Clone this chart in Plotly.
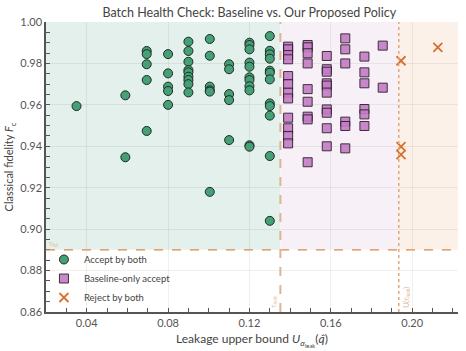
import plotly.graph_objects as go

# ---- data ----
accept_x = [0.035, 0.059, 0.059,
            0.0695, 0.0695, 0.0695, 0.0695, 0.0695,
            0.080, 0.080, 0.080, 0.080, 0.080,
            0.090, 0.090, 0.090, 0.090, 0.090, 0.090, 0.090, 0.090, 0.090,
            0.1005, 0.1005, 0.1005, 0.1005, 0.1005, 0.1005,
            0.110, 0.110, 0.110, 0.110, 0.110,
            0.120, 0.120, 0.120, 0.120, 0.120, 0.120, 0.120, 0.120, 0.120, 0.120, 0.120,
            0.130, 0.130, 0.130, 0.130, 0.130, 0.130, 0.130, 0.130, 0.130, 0.130, 0.130, 0.130]
accept_y = [0.9594, 0.9646, 0.9347,
            0.986, 0.9845, 0.9796, 0.972, 0.9474,
            0.9845, 0.9752, 0.9688, 0.9667, 0.960,
            0.9905, 0.986, 0.9808, 0.9768, 0.9757, 0.9736, 0.972, 0.970, 0.966,
            0.9918, 0.9837, 0.9688, 0.967, 0.9664, 0.918,
            0.9796, 0.9772, 0.9652, 0.9623, 0.943,
            0.990, 0.9889, 0.9868, 0.9804, 0.9784, 0.9733, 0.972, 0.969, 0.967, 0.9405, 0.9398,
            0.9932, 0.9861, 0.9844, 0.9823, 0.9765, 0.9755, 0.9723, 0.9607, 0.9594, 0.9548, 0.9353, 0.904]

base_x = [0.139] * 12 + [0.1486] * 9 + [0.158] * 10 + [0.1671] * 6 + [0.1765] * 6 + [0.1855] * 2
base_y = [0.9881, 0.9868, 0.984, 0.982, 0.9739, 0.970, 0.9659, 0.9631, 0.9538, 0.9487, 0.945, 0.9414,
          0.9889, 0.9878, 0.9849, 0.980, 0.9676, 0.9615, 0.9543, 0.953, 0.9323,
          0.9836, 0.9772, 0.976, 0.9704, 0.9693, 0.9659, 0.9578, 0.9562, 0.9487, 0.940,
          0.9921, 0.9868, 0.980, 0.9519, 0.9498, 0.939,
          0.9833, 0.9757, 0.9704, 0.958, 0.9554, 0.9498,
          0.9886, 0.9683]

reject_x = [0.1945, 0.1945, 0.1945, 0.2126]
reject_y = [0.9813, 0.9398, 0.936, 0.9878]

tau_fid = 0.89
tau_leak = 0.1352
u_tau_leak = 0.1934
x_range = [0.02, 0.2225]
y_range = [0.86, 1.00]

GREEN = "#45a077"
PINK = "#c47cc4"
ORANGE = "#d8702c"
FONT = "Lato, 'Open Sans', sans-serif"

fig = go.Figure()

# shaded decision regions (above tau_fid)
fig.add_shape(type="rect", x0=x_range[0], x1=tau_leak, y0=tau_fid, y1=y_range[1],
              fillcolor="#e4f0eb", line_width=0, layer="below")
fig.add_shape(type="rect", x0=tau_leak, x1=u_tau_leak, y0=tau_fid, y1=y_range[1],
              fillcolor="#f7f0f7", line_width=0, layer="below")
fig.add_shape(type="rect", x0=u_tau_leak, x1=x_range[1], y0=tau_fid, y1=y_range[1],
              fillcolor="#fbf1e9", line_width=0, layer="below")

# threshold lines
fig.add_shape(type="line", x0=x_range[0], x1=x_range[1], y0=tau_fid, y1=tau_fid,
              line=dict(color="#d9894a", width=1.3, dash="dash"))
fig.add_shape(type="line", x0=tau_leak, x1=tau_leak, y0=y_range[0], y1=y_range[1],
              line=dict(color="#dbb594", width=2, dash="dash"))
fig.add_shape(type="line", x0=u_tau_leak, x1=u_tau_leak, y0=y_range[0], y1=y_range[1],
              line=dict(color="#e3a87a", width=1.5, dash="dot"))

fig.add_trace(go.Scatter(x=accept_x, y=accept_y, mode="markers", name="Accept by both",
                         marker=dict(symbol="circle", size=9, color=GREEN,
                                     line=dict(color="#1d2a24", width=1))))
fig.add_trace(go.Scatter(x=base_x, y=base_y, mode="markers", name="Baseline-only accept",
                         marker=dict(symbol="square", size=9, color=PINK, opacity=0.9,
                                     line=dict(color="#2a1a2a", width=1))))
fig.add_trace(go.Scatter(x=reject_x, y=reject_y, mode="markers", name="Reject by both",
                         marker=dict(symbol="x-thin", size=9, color=ORANGE,
                                     line=dict(color=ORANGE, width=1.8))))

# small threshold labels
fig.add_annotation(x=x_range[0], y=tau_fid, text="τ<sub>fid</sub>", showarrow=False,
                   xanchor="left", yanchor="bottom", xshift=1,
                   font=dict(size=7, color="#e0c2a6", family=FONT))
fig.add_annotation(x=tau_leak, y=y_range[0], text="τ<sub>leak</sub>", showarrow=False,
                   textangle=-90, xanchor="right", yanchor="bottom", xshift=-1, yshift=2,
                   font=dict(size=7, color="#e0c2a6", family=FONT))
fig.add_annotation(x=u_tau_leak, y=y_range[0], text="U(τ<sub>leak</sub>)", showarrow=False,
                   textangle=-90, xanchor="left", yanchor="bottom", xshift=1, yshift=2,
                   font=dict(size=7, color="#e0b48e", family=FONT))

axis_common = dict(showline=True, linecolor="#555555", linewidth=1.5, ticks="inside",
                   ticklen=4, tickwidth=1.2, tickcolor="#555555", mirror=False,
                   gridcolor="rgba(0,0,0,0.06)", zeroline=False,
                   tickfont=dict(size=11, color="#555555", family=FONT))

fig.update_xaxes(range=x_range, tick0=0, dtick=0.04, tickformat=".2f",
                 minor=dict(dtick=0.01, tick0=0, ticks="inside", ticklen=4, tickcolor="#555555",
                            showgrid=False),
                 title=dict(text="Leakage upper bound <i>U</i><sub><i>α</i><sub>leak</sub></sub>(<i>q̂</i>)",
                            font=dict(size=12, color="#444444", family=FONT), standoff=7),
                 **axis_common)
fig.update_yaxes(range=y_range, tick0=0, dtick=0.02, tickformat=".2f",
                 minor=dict(dtick=0.005, tick0=0, ticks="inside", ticklen=4, tickcolor="#555555",
                            showgrid=False),
                 title=dict(text="Classical fidelity <i>F</i><sub>c</sub>",
                            font=dict(size=11, color="#444444", family=FONT), standoff=4),
                 **axis_common)

fig.update_layout(
    width=466, height=351,
    margin=dict(l=46, r=8, t=22, b=39),
    paper_bgcolor="white", plot_bgcolor="white",
    title=dict(text="Batch Health Check: Baseline vs. Our Proposed Policy", x=0.535, xanchor="center",
               y=0.965, yanchor="middle", font=dict(size=12.5, color="#444444", family=FONT)),
    showlegend=True,
    legend=dict(x=-0.005, y=0.0, xanchor="left", yanchor="bottom", bgcolor="rgba(255,255,255,0)",
                font=dict(size=9.5, color="#444444", family=FONT),
                tracegroupgap=0),
)

fig.write_html("out.html")
